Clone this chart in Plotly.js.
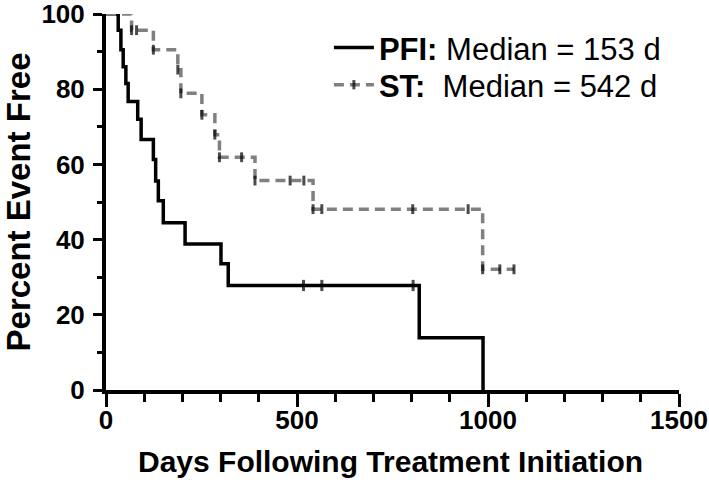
<!DOCTYPE html>
<html>
<head>
<meta charset="utf-8">
<script src="https://cdn.plot.ly/plotly-3.0.1.min.js"></script>
<style>html,body{margin:0;padding:0;background:#fff;}#chart{width:709px;height:482px;}</style>
</head>
<body>
<div id="chart"></div>
<script>
// PFI group (solid black)
const pfiDays = [0, 32, 39, 45, 52, 58, 83, 92, 124, 130, 137, 150, 207, 301, 320, 517, 565, 804, 820, 987];
const pfiSurv = [100, 95.7, 90.5, 86.0, 81.5, 76.7, 72.0, 66.6, 61.3, 55.6, 50.3, 44.5, 38.8, 33.6, 27.8, 27.8, 27.8, 27.8, 13.9, 0];
const pfiCensored = [0,0,0,0,0,0,0,0,0,0,0,0,0,0,0,1,1,1,0,0];

// ST group (dashed grey)
const stDays = [0, 67, 80, 124, 188, 196, 251, 285, 297, 355, 390, 482, 518, 542, 565, 803, 948, 986, 1031, 1068];
const stSurv = [100, 95.7, 95.7, 90.5, 85.2, 78.9, 73.2, 67.9, 61.9, 61.9, 55.7, 55.7, 55.7, 48.1, 48.1, 48.1, 48.1, 32.1, 32.1, 32.1];
const stMarked = [0,1,1,1,1,1,1,1,1,1,1,1,1,1,1,1,1,1,1,1];

const seriesNames = ['<b>PFI:</b> Median = 153 d', '<b>ST:</b>&nbsp; Median = 542 d'];
const xTickVals = [0, 500, 1000, 1500];
const yTickVals = [0, 20, 40, 60, 80, 100];
const xTitle = 'Days Following Treatment Initiation';
const yTitle = 'Percent Event Free';

const FONT = 'Liberation Sans, Arial, Helvetica, sans-serif';

const traces = [
  {
    x: pfiDays, y: pfiSurv, name: seriesNames[0], legend: 'legend',
    mode: 'lines+markers', line: {shape: 'hv', color: '#000000', width: 3.5},
    marker: {symbol: 'line-ns', size: pfiCensored.map(c => c ? 8 : 0), color: '#000', line: {color: '#000', width: 3}},
    hoverinfo: 'skip'
  },
  {
    x: stDays, y: stSurv, name: seriesNames[1], legend: 'legend2',
    mode: 'lines+markers', line: {shape: 'hv', color: '#808080', width: 3.5, dash: '10px,6px'},
    marker: {symbol: 'line-ns', size: stMarked.map(c => c ? 7 : 0), color: '#000', line: {color: '#000', width: 3}},
    hoverinfo: 'skip'
  }
];

const legendCommon = {
  x: 0.389, xanchor: 'left', yanchor: 'middle',
  font: {family: FONT, size: 31, color: '#000'},
  bgcolor: 'rgba(0,0,0,0)', itemwidth: 40
};

const layout = {
  width: 709, height: 482,
  margin: {l: 106, r: 30, t: 14, b: 92},
  paper_bgcolor: '#fff', plot_bgcolor: '#fff',
  font: {family: FONT, color: '#000'},
  showlegend: true,
  legend: Object.assign({}, legendCommon, {y: 0.91}),
  legend2: Object.assign({}, legendCommon, {y: 0.811}),
  xaxis: {
    range: [0, 1500], tickvals: xTickVals, ticktext: xTickVals.map(String),
    showgrid: false, zeroline: false,
    showline: true, linecolor: '#000', linewidth: 4,
    ticks: 'outside', ticklen: 13, tickwidth: 3, tickcolor: '#000',
    minor: {dtick: 100, tick0: 0, ticks: 'outside', ticklen: 8, tickwidth: 3, tickcolor: '#000', showgrid: false},
    tickfont: {family: FONT, size: 26, weight: 'bold', color: '#000'},
    ticklabelstandoff: -9,
    ticklabeloverflow: 'allow',
    fixedrange: true
  },
  yaxis: {
    range: [0, 100], tickvals: yTickVals, ticktext: yTickVals.map(String),
    showgrid: false, zeroline: false,
    showline: true, linecolor: '#000', linewidth: 4,
    ticks: 'outside', ticklen: 9, tickwidth: 3, tickcolor: '#000',
    minor: {dtick: 10, tick0: 0, ticks: 'outside', ticklen: 5, tickwidth: 3, tickcolor: '#000', showgrid: false},
    tickfont: {family: FONT, size: 26, weight: 'bold', color: '#000'},
    ticklabelstandoff: 3,
    ticklabeloverflow: 'allow',
    title: {text: yTitle, font: {family: FONT, size: 33, weight: 'bold', color: '#000'}, standoff: 13},
    fixedrange: true
  },
  annotations: [{
    text: xTitle, xref: 'paper', yref: 'paper', x: 0.496, y: -0.191,
    xanchor: 'center', yanchor: 'middle', showarrow: false,
    font: {family: FONT, size: 30, weight: 'bold', color: '#000'}
  }]
};

Plotly.newPlot('chart', traces, layout, {displayModeBar: false, staticPlot: true});
</script>
</body>
</html>
